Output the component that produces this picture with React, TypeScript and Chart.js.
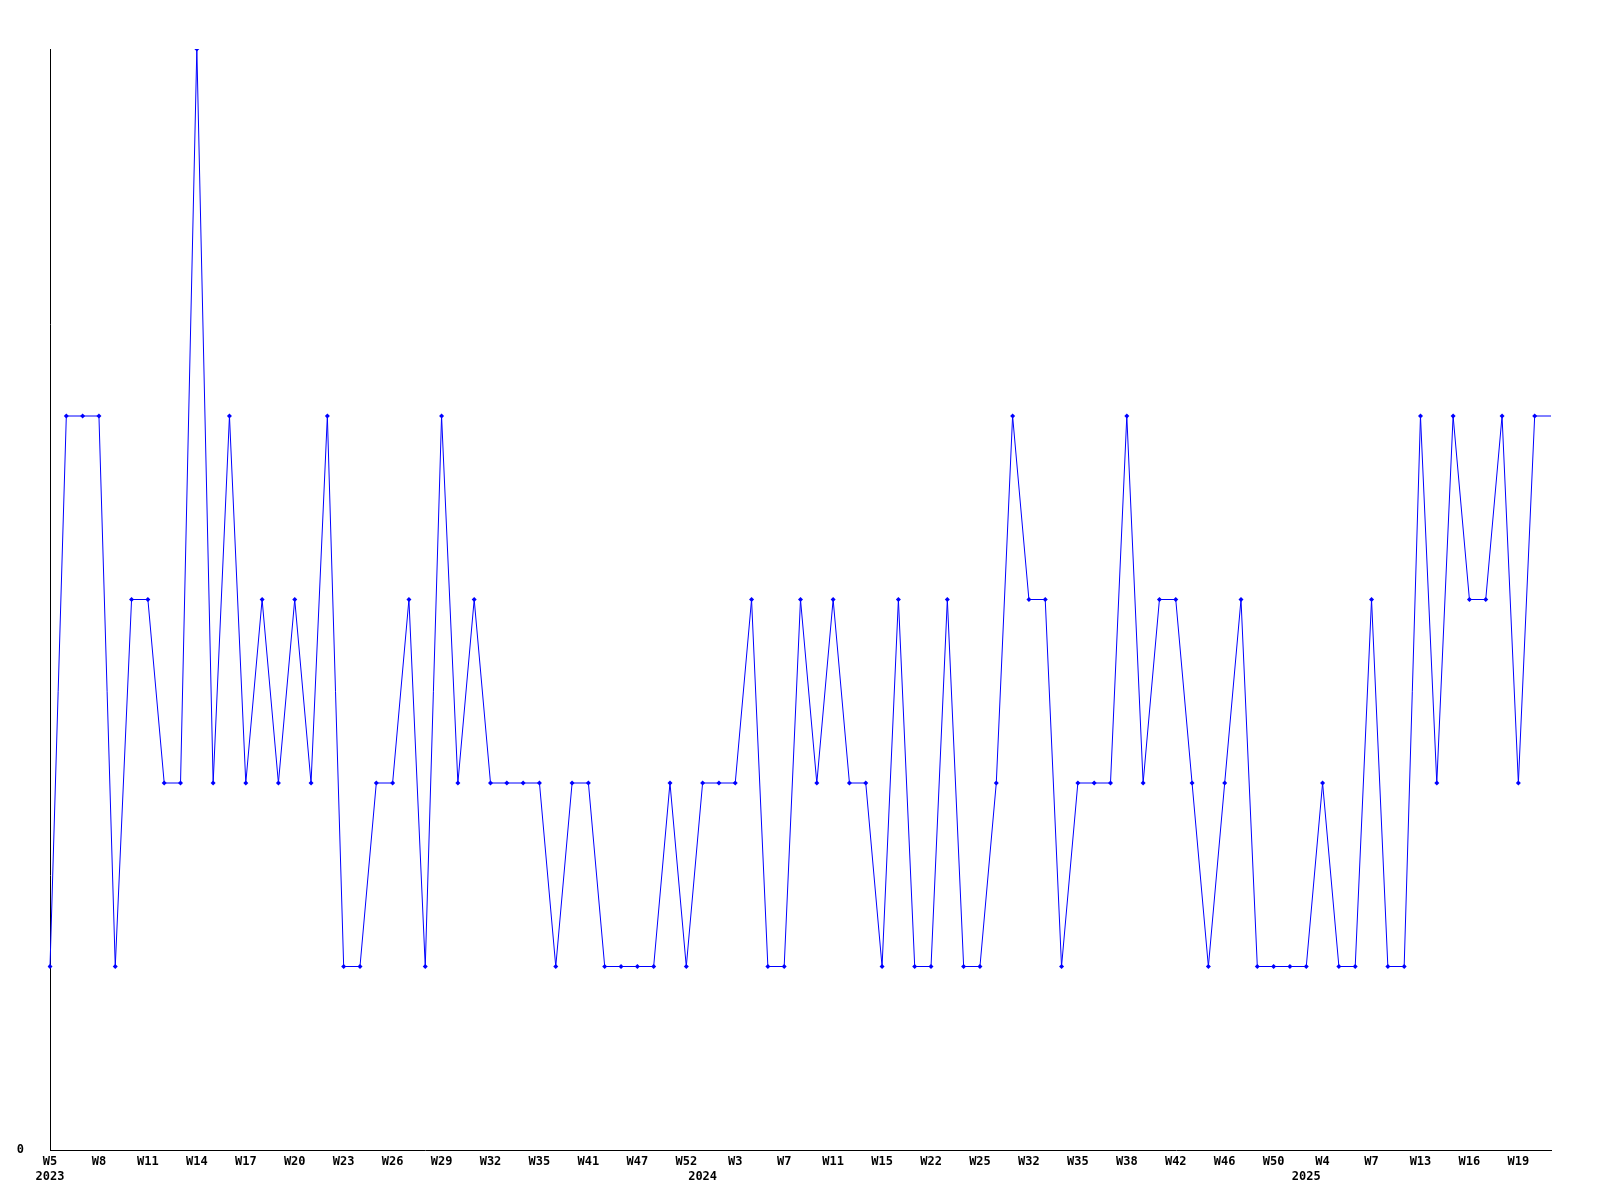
import React, { useEffect, useRef } from "react";
import { Chart, registerables } from "chart.js";

Chart.register(...registerables);

const weeks: string[] = [
  "W5", "W6", "W7", "W8", "W9", "W10", "W11", "W12", "W13", "W14",
  "W15", "W16", "W17", "W18", "W19", "W20", "W21", "W22", "W23", "W24",
  "W25", "W26", "W27", "W28", "W29", "W30", "W31", "W32", "W33", "W34",
  "W35", "W37", "W39", "W41", "W43", "W45", "W47", "W49", "W51", "W52",
  "W1", "W2", "W3", "W5", "W6", "W7", "W9", "W10", "W11", "W12",
  "W14", "W15", "W17", "W20", "W22", "W23", "W24", "W25", "W27", "W30",
  "W32", "W33", "W34", "W35", "W36", "W37", "W38", "W39", "W41", "W42",
  "W43", "W45", "W46", "W47", "W49", "W50", "W52", "W2", "W4", "W5",
  "W6", "W7", "W9", "W11", "W13", "W14", "W15", "W16", "W17", "W18",
  "W19", "W20", "W21",
];

const values: number[] = [
  1, 4, 4, 4, 1, 3, 3, 2, 2, 6,
  2, 4, 2, 3, 2, 3, 2, 4, 1, 1,
  2, 2, 3, 1, 4, 2, 3, 2, 2, 2,
  2, 1, 2, 2, 1, 1, 1, 1, 2, 1,
  2, 2, 2, 3, 1, 1, 3, 2, 3, 2,
  2, 1, 3, 1, 1, 3, 1, 1, 2, 4,
  3, 3, 1, 2, 2, 2, 4, 2, 3, 3,
  2, 1, 2, 3, 1, 1, 1, 1, 2, 1,
  1, 3, 1, 1, 4, 2, 4, 3, 3, 4,
  2, 4, 4,
];

const yearIndex: number[] = [0, 40, 77];
const yearText: string[] = ["2023", "2024", "2025"];

const yTicks: number[] = [0];

export default function App() {
  const ref = useRef<HTMLCanvasElement | null>(null);

  useEffect(() => {
    document.body.style.margin = "0";
    if (!ref.current) return;
    const font = { family: "'DejaVu Sans Mono', monospace", size: 12, weight: "bold" as const, lineHeight: 1.25 };
    const chart = new Chart(ref.current, {
      type: "line",
      data: {
        labels: weeks,
        datasets: [
          {
            data: values,
            borderColor: "#0000ff",
            backgroundColor: "#0000ff",
            borderWidth: 1,
            tension: 0,
            fill: false,
            pointStyle: "rectRot",
            pointRadius: (ctx: any) => (ctx.dataIndex === values.length - 1 ? 0 : 2.5),
            pointBorderWidth: 0,
            pointHoverRadius: 2.5,
          },
        ],
      },
      options: {
        animation: false,
        responsive: false,
        maintainAspectRatio: false,
        layout: { padding: { left: 0, right: 49, top: 49, bottom: 0 } },
        plugins: { legend: { display: false }, tooltip: { enabled: false } },
        scales: {
          x: {
            type: "category",
            offset: false,
            grid: { display: false, drawTicks: false },
            border: { display: true, color: "#000000", width: 1 },
            afterFit: (s: any) => {
              s.height = 50;
            },
            ticks: {
              autoSkip: false,
              maxRotation: 0,
              minRotation: 0,
              padding: 4,
              color: "#000000",
              font,
              callback: (_v: any, i: number) => {
                const w = i % 3 === 0 ? weeks[i] : "";
                const yi = yearIndex.indexOf(i);
                if (yi >= 0) return [w, yearText[yi]];
                return w;
              },
            },
          },
          y: {
            min: 0,
            max: 6,
            grid: { display: false, drawTicks: false },
            border: { display: true, color: "#000000", width: 1 },
            afterFit: (s: any) => {
              s.width = 50;
            },
            ticks: {
              stepSize: 1,
              padding: 26,
              color: "#000000",
              font,
              callback: (v: any) => (yTicks.includes(Number(v)) ? String(v) : ""),
            },
          },
        },
      },
    });
    return () => chart.destroy();
  }, []);

  return (
    <div style={{ width: 1600, height: 1200, background: "#ffffff" }}>
      <canvas ref={ref} width={1600} height={1200} style={{ display: "block" }} />
    </div>
  );
}
